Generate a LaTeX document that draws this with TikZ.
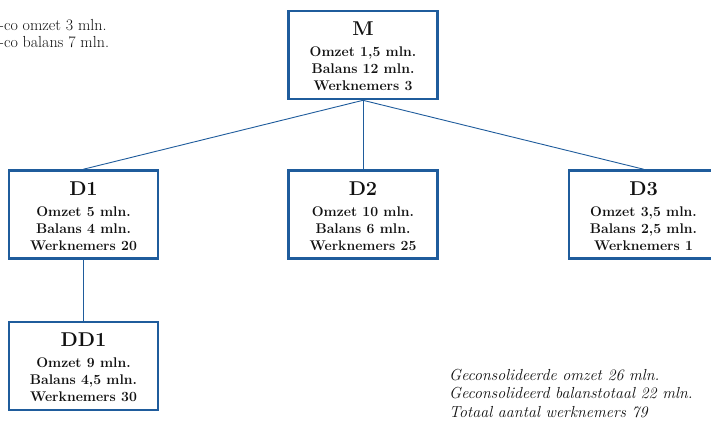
\documentclass[tikz,border=0pt]{standalone}
\usepackage{fontspec}
\definecolor{bx}{HTML}{1F5C9C}
\definecolor{tx}{HTML}{111111}
\newcommand\orgtext[5]{%
  \path (#1.north) ++(0,26) node[ttl]{#2};
  \path (#1.north) ++(0,47) node[bdy]{#3};
  \path (#1.north) ++(0,64) node[bdy]{#4};
  \path (#1.north) ++(0,81) node[bdy]{#5};
}
\begin{document}
\begin{tikzpicture}[x=1pt,y=-1pt,
  orgbox/.style={draw=bx,line width=2.6pt,fill=white,minimum width=149pt,minimum height=88pt,inner sep=0pt},
  conn/.style={draw=bx,line width=0.9pt},
  ttl/.style={anchor=base,inner sep=0pt,text=tx,font=\fontsize{20}{20}\selectfont\bfseries},
  bdy/.style={anchor=base,inner sep=0pt,text=tx,font=\fontsize{14}{14}\selectfont\bfseries},
  note/.style={anchor=base west,inner sep=0pt,text=tx,font=\fontsize{16}{16}\selectfont},
  inote/.style={anchor=base west,inner sep=0pt,text=tx,font=\fontsize{16}{16}\selectfont\itshape}
]
\useasboundingbox (0,0) rectangle (711,421);
\clip (0,0) rectangle (711,421);
\fill[white] (0,0) rectangle (711,421);

\node[orgbox] (M) at (363,55) {};
\node[orgbox] (D1) at (83.5,214.5) {};
\node[orgbox] (D2) at (363,214.5) {};
\node[orgbox] (D3) at (643.5,214.5) {};
\node[orgbox] (DD1) at (83.5,366) {};

\draw[conn] (M.south) -- (D1.north);
\draw[conn] (M.south) -- (D2.north);
\draw[conn] (M.south) -- (D3.north);
\draw[conn] (D1.south) -- (DD1.north);

\orgtext{M}{M}{Omzet 1,5 mln.}{Balans 12 mln.}{Werknemers 3}
\orgtext{D1}{D1}{Omzet 5 mln.}{Balans 4 mln.}{Werknemers 20}
\orgtext{D2}{D2}{Omzet 10 mln.}{Balans 6 mln.}{Werknemers 25}
\orgtext{D3}{D3}{Omzet 3,5 mln.}{Balans 2,5 mln.}{Werknemers 1}
\orgtext{DD1}{DD1}{Omzet 9 mln.}{Balans 4,5 mln.}{Werknemers 30}

\node[note] (n1) at (-1,30) {-co omzet 3 mln.};
\node[note] (n2) at (-1,47) {-co balans 7 mln.};

\node[inote] (c1) at (449,380) {Geconsolideerde omzet 26 mln.};
\node[inote] (c2) at (449,398.5) {Geconsolideerd balanstotaal 22 mln.};
\node[inote] (c3) at (449,417) {Totaal aantal werknemers 79};
\end{tikzpicture}
\end{document}
